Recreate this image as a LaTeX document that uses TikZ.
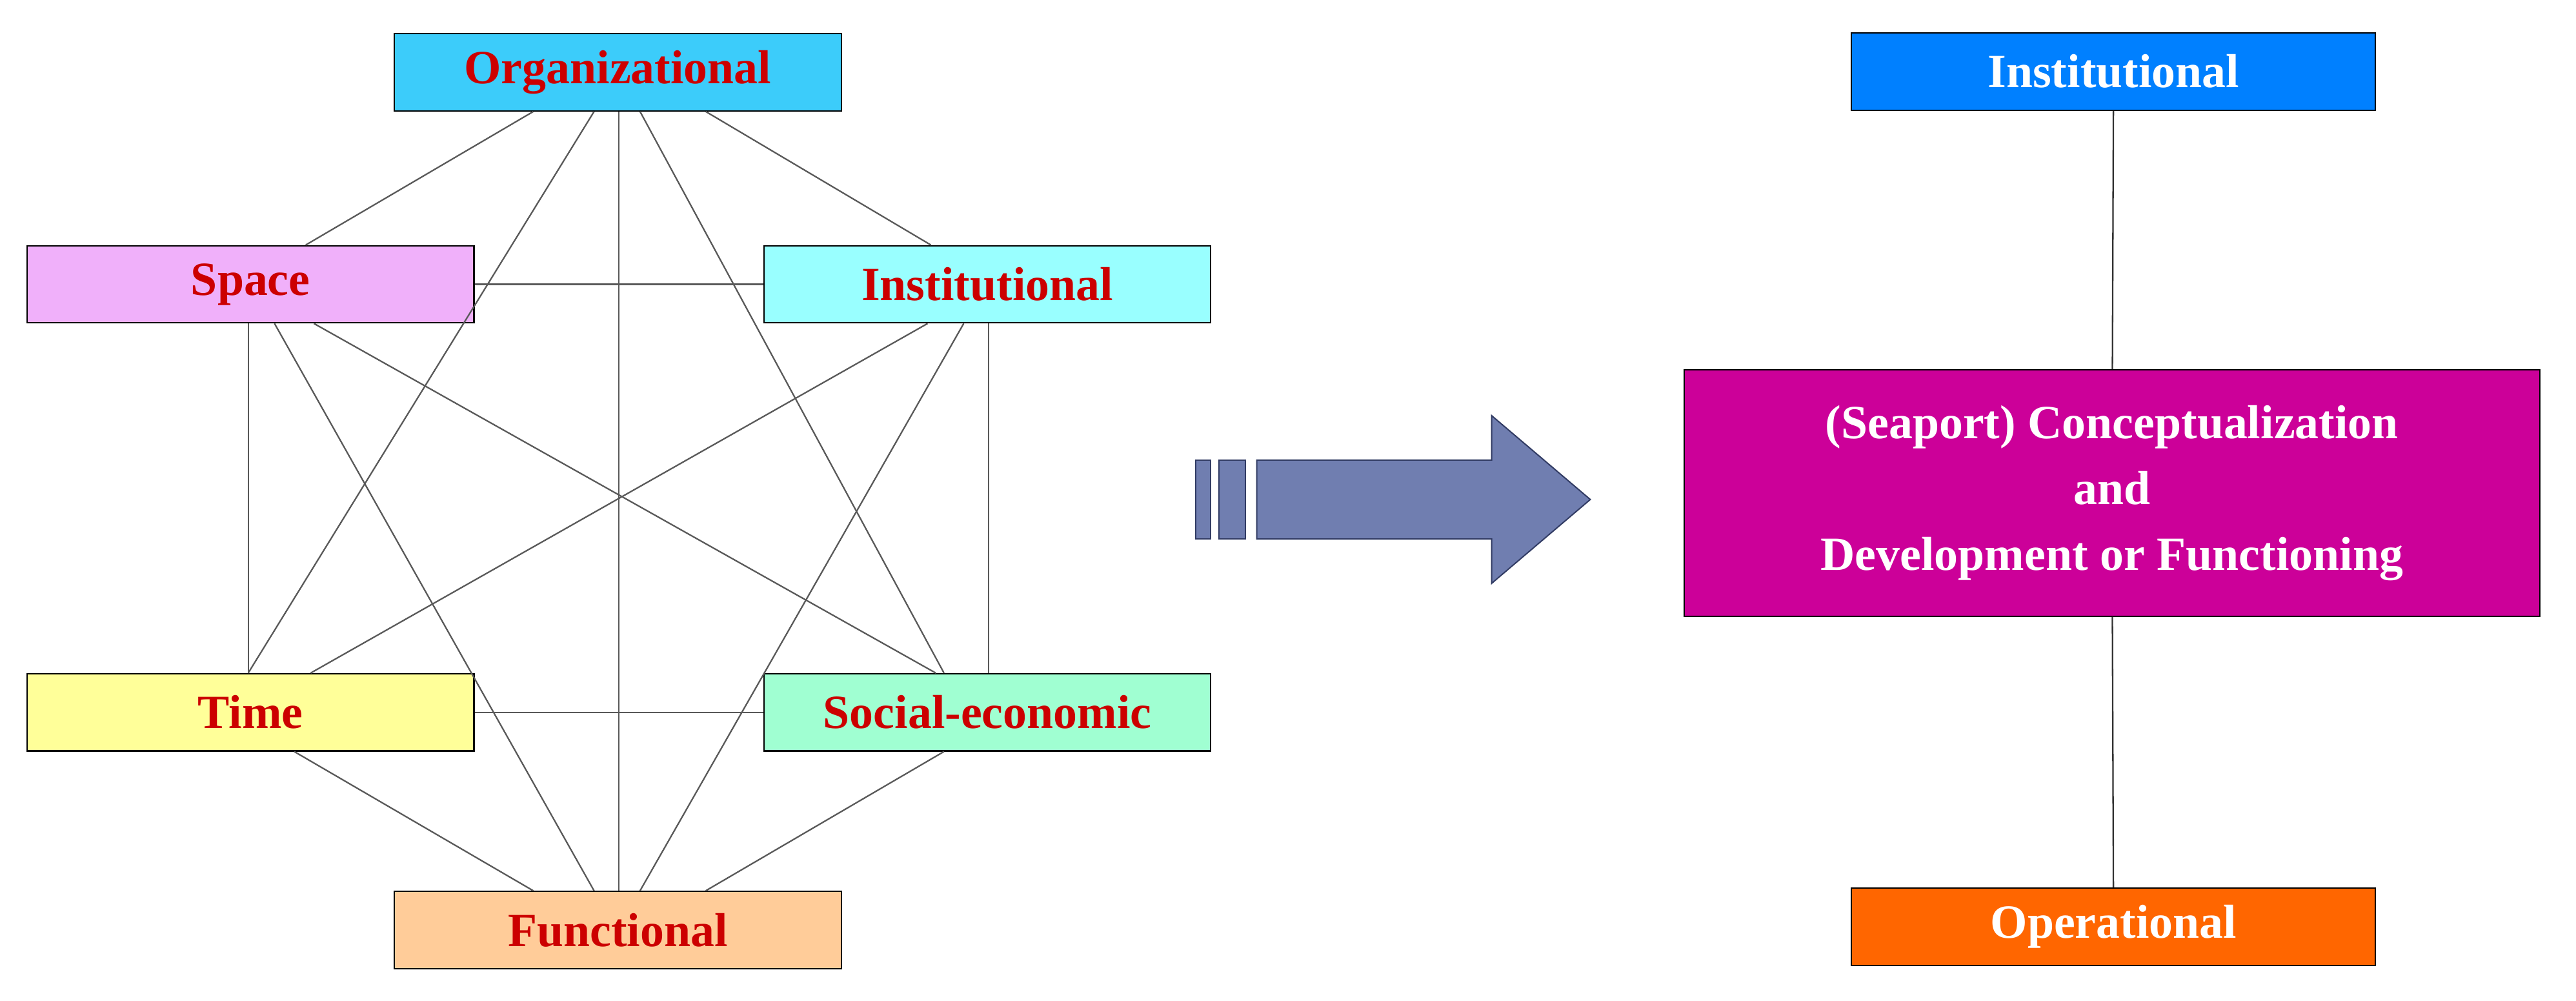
\documentclass[tikz,border=0pt]{standalone}
\usepackage{fontspec}
\setmainfont{Liberation Serif}
\usetikzlibrary{calc}
\definecolor{tred}{HTML}{CC0000}
\begin{document}
\begin{tikzpicture}[x=1pt,y=-1pt,
 box/.style={draw=black,line width=0.8pt,minimum width=272pt,minimum height=47pt,inner sep=0pt,font=\fontsize{29}{30}\selectfont\bfseries,text=tred},
 rbox/.style={draw=black,line width=0.8pt,minimum width=319pt,minimum height=47pt,inner sep=0pt,font=\fontsize{29}{30}\selectfont\bfseries,text=white},
 ln/.style={draw=black!65,line width=0.9pt}]
\useasboundingbox (0,0) rectangle (1568,609);
\node[box,fill={rgb,255:red,60;green,204;blue,250}] (org) at (376,44) {Organizational};
\node[box,fill={rgb,255:red,240;green,176;blue,250}] (spa) at (152.5,173) {Space};
\node[box,fill={rgb,255:red,153;green,255;blue,255}] (ins) at (601,173) {Institutional};
\node[box,fill={rgb,255:red,255;green,255;blue,153}] (tim) at (152.5,433.5) {Time};
\node[box,fill={rgb,255:red,160;green,255;blue,210}] (soc) at (601,433.5) {Social-economic};
\node[box,fill={rgb,255:red,255;green,204;blue,153}] (fun) at (376,566) {Functional};
% edges
\draw[ln] ($(org.south west)+(85,0)$) -- ($(spa.north west)+(170,0)$);
\draw[ln] ($(org.south west)+(190,0)$) -- ($(ins.north west)+(102,0)$);
\draw[ln] ($(org.south west)+(122,0)$) -- ($(tim.north west)+(135,0)$);
\draw[ln] ($(org.south west)+(150,0)$) -- ($(soc.north west)+(110,0)$);
\draw[ln] ($(org.south west)+(137,0)$) -- ($(fun.north west)+(137,0)$);
\draw[ln] (spa.east) -- (ins.west);
\draw[ln] ($(spa.south west)+(135,0)$) -- ($(tim.north west)+(135,0)$);
\draw[ln] ($(spa.south west)+(175,0)$) -- ($(soc.north west)+(105,0)$);
\draw[ln] ($(spa.south west)+(151,0)$) -- ($(fun.north west)+(122,0)$);
\draw[ln] ($(ins.south west)+(100,0)$) -- ($(tim.north west)+(173,0)$);
\draw[ln] ($(ins.south west)+(137,0)$) -- ($(soc.north west)+(137,0)$);
\draw[ln] ($(ins.south west)+(122,0)$) -- ($(fun.north west)+(150,0)$);
\draw[ln] (tim.east) -- (soc.west);
\draw[ln] ($(tim.south west)+(163,0)$) -- ($(fun.north west)+(85,0)$);
\draw[ln] ($(soc.south west)+(110,0)$) -- ($(fun.north west)+(190,0)$);
% arrow
\tikzset{arr/.style={fill={rgb,255:red,112;green,126;blue,176},draw={rgb,255:red,50;green,60;blue,100},line width=0.8pt}}
\path[arr] (728,280) rectangle (737,328);
\path[arr] (742,280) rectangle (758,328);
\path[arr] (765,280) -- (908,280) -- (908,253) -- (968,304) -- (908,355) -- (908,328) -- (765,328) -- cycle;
% right
\node[rbox,fill={rgb,255:red,0;green,128;blue,255}] (rin) at (1286.5,43.5) {Institutional};
\node[draw=black,line width=0.8pt,minimum width=521pt,minimum height=150pt,inner sep=0pt,align=center,fill={rgb,255:red,204;green,0;blue,153},text=white,font=\fontsize{29}{40}\selectfont\bfseries] (cen) at (1285.5,300) {(Seaport) Conceptualization\\and\\Development or Functioning};
\node[rbox,fill={rgb,255:red,255;green,102;blue,0}] (ope) at (1286.5,564) {Operational};
\draw[ln,draw=black!80] (rin) -- (cen);
\draw[ln,draw=black!80] (cen) -- (ope);
\end{tikzpicture}
\end{document}
